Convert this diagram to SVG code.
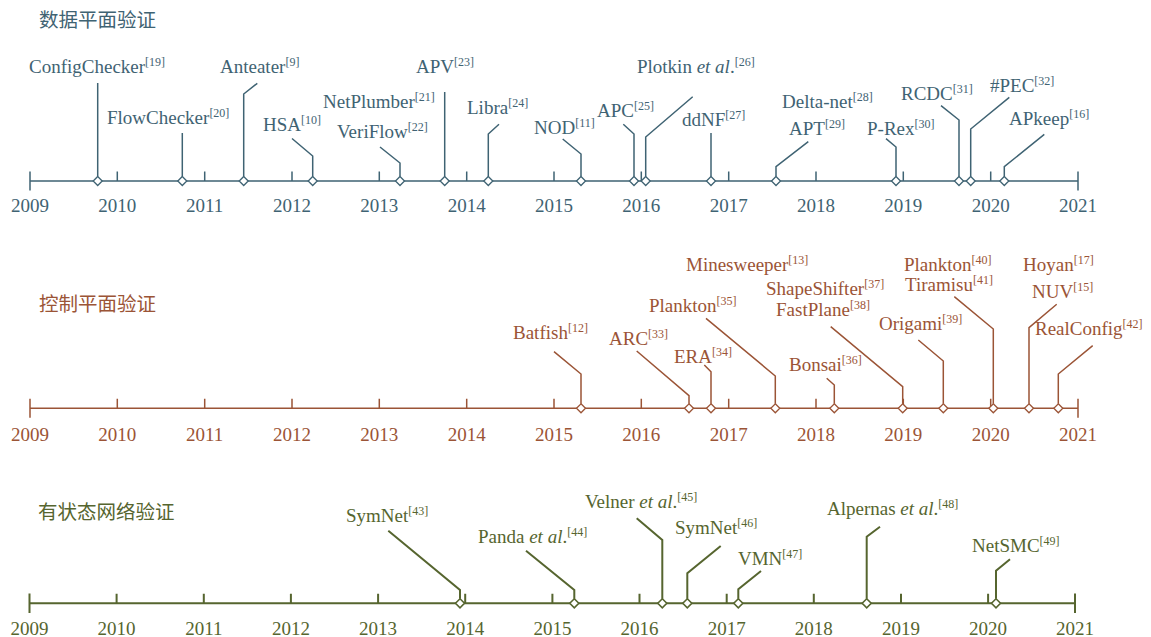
<svg xmlns="http://www.w3.org/2000/svg" xmlns:xlink="http://www.w3.org/1999/xlink" width="1151" height="637" viewBox="0 0 1151 637">
<style>
text{font-family:"Liberation Serif","Times New Roman",serif;font-size:19px}
.t{font-family:"Noto Sans CJK SC","Noto Sans",sans-serif;font-size:19.5px}
.s{font-size:12px}
.i{font-style:italic}
.yr{text-anchor:middle}
.r1{fill:#3f6373}.r2{fill:#9b5436}.r3{fill:#56652f}
.l1{stroke:#3f6373;stroke-width:1.5;fill:none}
.l2{stroke:#9b5436;stroke-width:1.5;fill:none}
.l3{stroke:#56652f;stroke-width:2;fill:none}
.d1{stroke:#3f6373;stroke-width:1.3}
.d2{stroke:#9b5436;stroke-width:1.3}
.d3{stroke:#56652f;stroke-width:1.6}
</style>
<defs>
<path id="dia" d="M0,-4.5 L4.5,0 L0,4.5 L-4.5,0 Z" fill="#fff"/>
</defs>
<rect width="1151" height="637" fill="#fff"/>

<!-- Row 1: data plane -->
<g id="title-data-plane"><text class="t r1" x="39" y="27">数据平面验证</text></g>
<g id="axis-data-plane">
<path class="l1" d="M30,181 H1078 M30,171.5 V190.5 M1078,171.5 V190.5 M117.3,171.5 V181 M204.7,171.5 V181 M292,171.5 V181 M379.3,171.5 V181 M466.7,171.5 V181 M554,171.5 V181 M641.3,171.5 V181 M728.7,171.5 V181 M816,171.5 V181 M903.3,171.5 V181 M990.7,171.5 V181"/>
<g class="r1 yr">
<text x="30" y="212">2009</text><text x="117.3" y="212">2010</text><text x="204.7" y="212">2011</text><text x="292" y="212">2012</text><text x="379.3" y="212">2013</text><text x="466.7" y="212">2014</text><text x="554" y="212">2015</text><text x="641.3" y="212">2016</text><text x="728.7" y="212">2017</text><text x="816" y="212">2018</text><text x="903.3" y="212">2019</text><text x="990.7" y="212">2020</text><text x="1078" y="212">2021</text>
</g>
</g>

<!-- Row 2: control plane -->
<g id="title-control-plane"><text class="t r2" x="39" y="311">控制平面验证</text></g>
<g id="axis-control-plane">
<path class="l2" d="M30,408.3 H1078 M30,398.8 V417.8 M1078,398.8 V417.8 M117.3,398.8 V408.3 M204.7,398.8 V408.3 M292,398.8 V408.3 M379.3,398.8 V408.3 M466.7,398.8 V408.3 M554,398.8 V408.3 M641.3,398.8 V408.3 M728.7,398.8 V408.3 M816,398.8 V408.3 M903.3,398.8 V408.3 M990.7,398.8 V408.3"/>
<g class="r2 yr">
<text x="30" y="440.5">2009</text><text x="117.3" y="440.5">2010</text><text x="204.7" y="440.5">2011</text><text x="292" y="440.5">2012</text><text x="379.3" y="440.5">2013</text><text x="466.7" y="440.5">2014</text><text x="554" y="440.5">2015</text><text x="641.3" y="440.5">2016</text><text x="728.7" y="440.5">2017</text><text x="816" y="440.5">2018</text><text x="903.3" y="440.5">2019</text><text x="990.7" y="440.5">2020</text><text x="1078" y="440.5">2021</text>
</g>
</g>

<!-- Row 3: stateful network -->
<g id="title-stateful"><text class="t r3" x="38" y="519">有状态网络验证</text></g>
<g id="axis-stateful">
<path class="l3" d="M29.5,603.3 H1075 M29.5,593.5 V613 M1075,593.5 V613 M116.6,593.8 V603.3 M203.8,593.8 V603.3 M290.9,593.8 V603.3 M378.1,593.8 V603.3 M465.2,593.8 V603.3 M552.4,593.8 V603.3 M639.5,593.8 V603.3 M726.7,593.8 V603.3 M813.8,593.8 V603.3 M901,593.8 V603.3 M988.1,593.8 V603.3"/>
<g class="r3 yr">
<text x="29.5" y="635">2009</text><text x="116.6" y="635">2010</text><text x="203.8" y="635">2011</text><text x="290.9" y="635">2012</text><text x="378.1" y="635">2013</text><text x="465.2" y="635">2014</text><text x="552.4" y="635">2015</text><text x="639.5" y="635">2016</text><text x="726.7" y="635">2017</text><text x="813.8" y="635">2018</text><text x="901" y="635">2019</text><text x="988.1" y="635">2020</text><text x="1075" y="635">2021</text>
</g>
</g>

<!-- Connectors -->
<g id="connectors">
<g class="l1">
<path d="M97.7,176.5 V83"/>
<path d="M182.3,176.5 V133"/>
<path d="M243.7,176.5 V94 L257.3,83.3"/>
<path d="M312.7,176.5 V156 L292,138.5"/>
<path d="M400,176.5 V163 L380,147"/>
<path d="M444.7,176.5 V92"/>
<path d="M488.3,176.5 V134 L499,124.3"/>
<path d="M581,176.5 V154 L562.7,139"/>
<path d="M634,176.5 V134 L623.3,124.3"/>
<path d="M645.7,176.5 V137 L692.7,96.7"/>
<path d="M711,176.5 V133"/>
<path d="M776,176.5 V166.7 L808.3,141.7"/>
<path d="M896,176.5 V147 L886,138.7"/>
<path d="M959,176.5 V120 L941,105.7"/>
<path d="M970.7,176.5 V129 L1009.3,97.3"/>
<path d="M1004.3,176.5 V166.7 L1044.3,134.3"/>
</g>
<g class="l2">
<path d="M581,403.8 V374 L554,351.7"/>
<path d="M689,403.8 V395.7 L636.7,351"/>
<path d="M711,403.8 V371.7 L704.3,365"/>
<path d="M775.3,403.8 V376 L706,318.3"/>
<path d="M834.3,403.8 V385 L826.7,378.3"/>
<path d="M902.7,403.8 V386.7 L830.7,326.7"/>
<path d="M943.3,403.8 V361 L918.3,340"/>
<path d="M993.3,403.8 V329 L954.3,296.7"/>
<path d="M1029,403.8 V327.7 L1056.7,304.3"/>
<path d="M1058.3,403.8 V374 L1092.7,345.7"/>
</g>
<g class="l3">
<path d="M460,598.8 V590 L388.3,530.7"/>
<path d="M574.3,598.8 V590 L526,550.7"/>
<path d="M662.3,598.8 V540 L636.7,518.3"/>
<path d="M687.3,598.8 V573.3 L720.7,546"/>
<path d="M738.3,598.8 V589.3 L761,571"/>
<path d="M866.7,598.8 V536.7 L880,526.7"/>
<path d="M996,598.8 V570.7 L1010,559.3"/>
</g>
</g>

<!-- Row 1 nodes -->
<g id="n-configchecker"><use href="#dia" class="d1" x="97.7" y="181"/><text class="r1" x="29" y="73">ConfigChecker<tspan class="s" dy="-7">[19]</tspan></text></g>
<g id="n-flowchecker"><use href="#dia" class="d1" x="182.3" y="181"/><text class="r1" x="107" y="124">FlowChecker<tspan class="s" dy="-7">[20]</tspan></text></g>
<g id="n-anteater"><use href="#dia" class="d1" x="243.7" y="181"/><text class="r1" x="220" y="73">Anteater<tspan class="s" dy="-7">[9]</tspan></text></g>
<g id="n-hsa"><use href="#dia" class="d1" x="312.7" y="181"/><text class="r1" x="263" y="131">HSA<tspan class="s" dy="-7">[10]</tspan></text></g>
<g id="n-netplumber-veriflow"><use href="#dia" class="d1" x="400" y="181"/><text class="r1" x="323" y="108">NetPlumber<tspan class="s" dy="-7">[21]</tspan></text><text class="r1" x="337" y="138">VeriFlow<tspan class="s" dy="-7">[22]</tspan></text></g>
<g id="n-apv"><use href="#dia" class="d1" x="444.7" y="181"/><text class="r1" x="416" y="73">APV<tspan class="s" dy="-7">[23]</tspan></text></g>
<g id="n-libra"><use href="#dia" class="d1" x="488.3" y="181"/><text class="r1" x="467" y="114">Libra<tspan class="s" dy="-7">[24]</tspan></text></g>
<g id="n-nod"><use href="#dia" class="d1" x="581" y="181"/><text class="r1" x="534" y="134">NOD<tspan class="s" dy="-7">[11]</tspan></text></g>
<g id="n-apc"><use href="#dia" class="d1" x="634" y="181"/><text class="r1" x="597" y="117">APC<tspan class="s" dy="-7">[25]</tspan></text></g>
<g id="n-plotkin"><use href="#dia" class="d1" x="645.7" y="181"/><text class="r1" x="637" y="73">Plotkin <tspan class="i">et al</tspan>.<tspan class="s" dy="-7">[26]</tspan></text></g>
<g id="n-ddnf"><use href="#dia" class="d1" x="711" y="181"/><text class="r1" x="682" y="126">ddNF<tspan class="s" dy="-7">[27]</tspan></text></g>
<g id="n-deltanet-apt"><use href="#dia" class="d1" x="776" y="181"/><text class="r1" x="782" y="108">Delta-net<tspan class="s" dy="-7">[28]</tspan></text><text class="r1" x="789" y="135">APT<tspan class="s" dy="-7">[29]</tspan></text></g>
<g id="n-prex"><use href="#dia" class="d1" x="896" y="181"/><text class="r1" x="867" y="135">P-Rex<tspan class="s" dy="-7">[30]</tspan></text></g>
<g id="n-rcdc"><use href="#dia" class="d1" x="959" y="181"/><text class="r1" x="901" y="100">RCDC<tspan class="s" dy="-7">[31]</tspan></text></g>
<g id="n-pec"><use href="#dia" class="d1" x="970.7" y="181"/><text class="r1" x="990" y="92">#PEC<tspan class="s" dy="-7">[32]</tspan></text></g>
<g id="n-apkeep"><use href="#dia" class="d1" x="1004.3" y="181"/><text class="r1" x="1009" y="125">APkeep<tspan class="s" dy="-7">[16]</tspan></text></g>

<!-- Row 2 nodes -->
<g id="n-batfish"><use href="#dia" class="d2" x="581" y="408.3"/><text class="r2" x="513" y="339">Batfish<tspan class="s" dy="-7">[12]</tspan></text></g>
<g id="n-arc"><use href="#dia" class="d2" x="689" y="408.3"/><text class="r2" x="609" y="345">ARC<tspan class="s" dy="-7">[33]</tspan></text></g>
<g id="n-era"><use href="#dia" class="d2" x="711" y="408.3"/><text class="r2" x="674" y="363">ERA<tspan class="s" dy="-7">[34]</tspan></text></g>
<g id="n-minesweeper-plankton"><use href="#dia" class="d2" x="775.3" y="408.3"/><text class="r2" x="686" y="271">Minesweeper<tspan class="s" dy="-7">[13]</tspan></text><text class="r2" x="649" y="312">Plankton<tspan class="s" dy="-7">[35]</tspan></text></g>
<g id="n-bonsai"><use href="#dia" class="d2" x="834.3" y="408.3"/><text class="r2" x="789" y="371">Bonsai<tspan class="s" dy="-7">[36]</tspan></text></g>
<g id="n-shapeshifter-fastplane"><use href="#dia" class="d2" x="902.7" y="408.3"/><text class="r2" x="766" y="295">ShapeShifter<tspan class="s" dy="-7">[37]</tspan></text><text class="r2" x="776" y="316">FastPlane<tspan class="s" dy="-7">[38]</tspan></text></g>
<g id="n-origami"><use href="#dia" class="d2" x="943.3" y="408.3"/><text class="r2" x="879" y="330">Origami<tspan class="s" dy="-7">[39]</tspan></text></g>
<g id="n-plankton-tiramisu"><use href="#dia" class="d2" x="993.3" y="408.3"/><text class="r2" x="904" y="271">Plankton<tspan class="s" dy="-7">[40]</tspan></text><text class="r2" x="905" y="291">Tiramisu<tspan class="s" dy="-7">[41]</tspan></text></g>
<g id="n-hoyan-nuv"><use href="#dia" class="d2" x="1029" y="408.3"/><text class="r2" x="1023" y="271">Hoyan<tspan class="s" dy="-7">[17]</tspan></text><text class="r2" x="1032" y="298">NUV<tspan class="s" dy="-7">[15]</tspan></text></g>
<g id="n-realconfig"><use href="#dia" class="d2" x="1058.3" y="408.3"/><text class="r2" x="1035" y="335">RealConfig<tspan class="s" dy="-7">[42]</tspan></text></g>

<!-- Row 3 nodes -->
<g id="n-symnet43"><use href="#dia" class="d3" x="460" y="603.3"/><text class="r3" x="346" y="522">SymNet<tspan class="s" dy="-7">[43]</tspan></text></g>
<g id="n-panda"><use href="#dia" class="d3" x="574.3" y="603.3"/><text class="r3" x="478" y="543">Panda <tspan class="i">et al</tspan>.<tspan class="s" dy="-7">[44]</tspan></text></g>
<g id="n-velner"><use href="#dia" class="d3" x="662.3" y="603.3"/><text class="r3" x="585" y="508">Velner <tspan class="i">et al</tspan>.<tspan class="s" dy="-7">[45]</tspan></text></g>
<g id="n-symnet46"><use href="#dia" class="d3" x="687.3" y="603.3"/><text class="r3" x="675" y="534">SymNet<tspan class="s" dy="-7">[46]</tspan></text></g>
<g id="n-vmn"><use href="#dia" class="d3" x="738.3" y="603.3"/><text class="r3" x="738" y="565">VMN<tspan class="s" dy="-7">[47]</tspan></text></g>
<g id="n-alpernas"><use href="#dia" class="d3" x="866.7" y="603.3"/><text class="r3" x="827" y="515">Alpernas <tspan class="i">et al</tspan>.<tspan class="s" dy="-7">[48]</tspan></text></g>
<g id="n-netsmc"><use href="#dia" class="d3" x="996" y="603.3"/><text class="r3" x="972" y="552">NetSMC<tspan class="s" dy="-7">[49]</tspan></text></g>
</svg>
